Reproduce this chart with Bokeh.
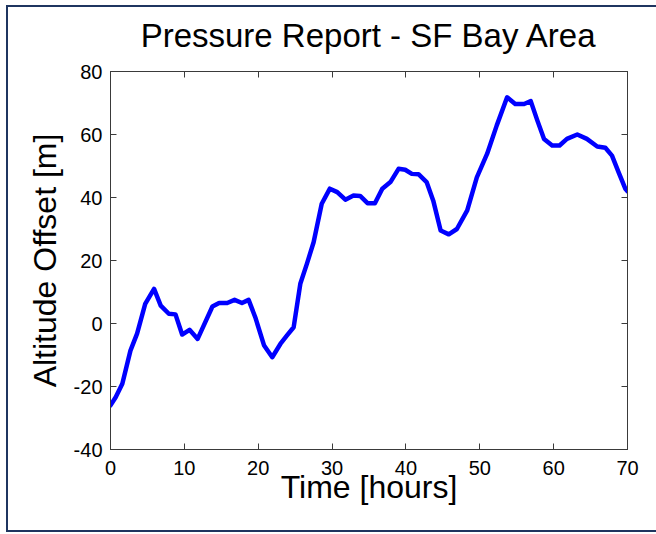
from bokeh.plotting import figure
from bokeh.models import LinearAxis, FixedTicker, Range1d, CustomJSTickFormatter
from bokeh.embed import file_html
from bokeh.resources import INLINE

title_text = "Pressure Report - SF Bay Area"
x_label = "Time [hours]"
y_label = "Altitude Offset [m]"

hours = [0, 0.7, 1.6, 2.7, 3.6, 4.7, 5.9, 6.8, 7.9, 8.8, 9.7, 10.7, 11.8, 13.8,
         14.7, 15.8, 16.8, 17.8, 18.7, 19.6, 20.8, 21.9, 23.0, 23.9, 24.8, 25.7,
         26.6, 27.5, 28.6, 29.7, 30.7, 31.8, 32.9, 33.8, 34.8, 35.8, 36.8, 37.9,
         39.0, 39.9, 40.8, 41.7, 42.8, 43.7, 44.7, 45.8, 46.9, 48.3, 49.6, 51.0,
         52.3, 53.7, 54.8, 56.0, 56.9, 57.8, 58.7, 59.8, 60.8, 61.8, 63.2, 64.5,
         65.9, 67.0, 67.9, 68.8, 69.7, 70]
altitude = [-26, -23.4, -19.1, -8.6, -3.2, 6.2, 11.0, 5.7, 3.1, 2.9, -3.5, -2.0,
            -4.9, 5.4, 6.5, 6.5, 7.5, 6.5, 7.5, 2.0, -7.0, -10.7, -6.5, -3.8, -1.2,
            12.6, 19.0, 25.8, 38.0, 42.8, 41.7, 39.3, 40.6, 40.5, 38.2, 38.2, 42.8,
            44.9, 49.1, 48.8, 47.5, 47.4, 44.9, 39.0, 29.5, 28.3, 30.0, 35.9, 46.4,
            53.9, 62.9, 71.8, 69.7, 69.7, 70.6, 64.4, 58.6, 56.5, 56.5, 58.6, 60.0,
            58.6, 56.2, 55.8, 53.3, 48.0, 42.8, 42.0]

x_ticks = [0, 10, 20, 30, 40, 50, 60, 70]
y_ticks = [-40, -20, 0, 20, 40, 60, 80]

FONT = "Liberation Sans"
AX = "#3a3a3a"

p = figure(width=648, height=523, output_backend="svg", toolbar_location=None,
           x_range=Range1d(0, 70), y_range=Range1d(-40, 80),
           frame_width=517, frame_height=378,
           min_border_left=102, min_border_right=29, min_border_top=64, min_border_bottom=81)

p.margin = (7, 0, 0, 8)
p.styles = {"outline": "2px solid #1f3560"}
p.background_fill_color = "white"
p.border_fill_color = "white"
p.outline_line_color = AX
p.outline_line_width = 1
p.grid.visible = False

p.line(hours, altitude, line_color="#0000ff", line_width=4.5, line_join="round", line_cap="round")

plain = CustomJSTickFormatter(code="return String(tick);")

for ax in (p.xaxis[0], p.yaxis[0]):
    ax.major_tick_in = 6
    ax.major_tick_out = 0
    ax.minor_tick_in = 0
    ax.minor_tick_out = 0
    ax.axis_line_color = AX
    ax.major_tick_line_color = AX
    ax.major_label_text_font = FONT
    ax.major_label_text_font_size = "20px"
    ax.major_label_text_color = "black"
    ax.axis_label_text_font = FONT
    ax.axis_label_text_font_size = "32px"
    ax.axis_label_text_font_style = "normal"
    ax.axis_label_text_color = "black"
    ax.formatter = plain

p.xaxis[0].ticker = FixedTicker(ticks=x_ticks)
p.yaxis[0].ticker = FixedTicker(ticks=y_ticks)
p.xaxis[0].axis_label = x_label
p.yaxis[0].axis_label = y_label
p.xaxis[0].major_label_standoff = 11
p.yaxis[0].major_label_standoff = 8
p.xaxis[0].axis_label_standoff = -9
p.yaxis[0].axis_label_standoff = 8

blank = CustomJSTickFormatter(code="return '';")
top_ax = LinearAxis(ticker=FixedTicker(ticks=x_ticks), formatter=blank)
right_ax = LinearAxis(ticker=FixedTicker(ticks=y_ticks), formatter=blank)
for ax in (top_ax, right_ax):
    ax.major_tick_in = 6
    ax.major_tick_out = 0
    ax.minor_tick_in = 0
    ax.minor_tick_out = 0
    ax.axis_line_color = AX
    ax.major_tick_line_color = AX
    ax.major_label_standoff = 0
    ax.axis_label_standoff = 0

# the chart title, drawn as the label of the top axis
top_ax.axis_label = title_text
top_ax.axis_label_text_font = FONT
top_ax.axis_label_text_font_size = "33px"
top_ax.axis_label_text_font_style = "normal"
top_ax.axis_label_text_color = "black"
top_ax.axis_label_standoff = 18

p.add_layout(top_ax, "above")
p.add_layout(right_ax, "right")

open("out.html", "w").write(file_html(p, INLINE))
